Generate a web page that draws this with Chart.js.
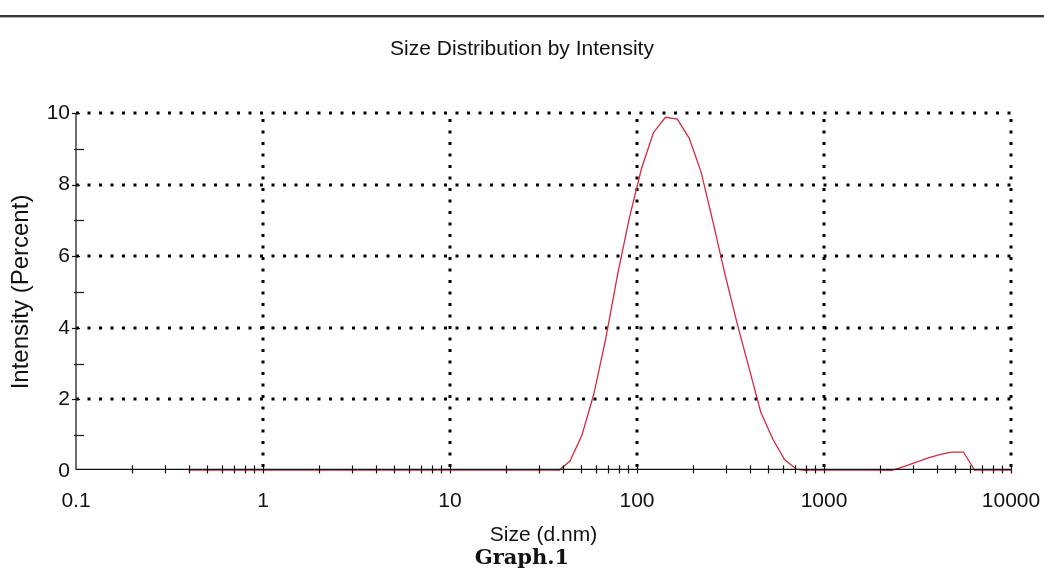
<!DOCTYPE html>
<html>
<head>
<meta charset="utf-8">
<script src="https://cdn.jsdelivr.net/npm/chart.js@4"></script>
<style>
  html, body { margin: 0; padding: 0; background: #fff; }
  #wrap { position: relative; width: 1044px; height: 573px; overflow: hidden; }
  #c { position: absolute; left: 0; top: 0; }
  #rule { position: absolute; left: 0; top: 15px; width: 1044px; height: 2px; background: #3a3a3a; border-bottom: 1px solid #b4b4b4; }
  #caption { position: absolute; left: 0; top: 544px; width: 1044px; text-align: center;
             font: bold 21px "DejaVu Serif", serif; color: #111; }
</style>
</head>
<body>
<div id="wrap">
  <canvas id="c" width="1044" height="573"></canvas>
  <div id="rule"></div>
  <div id="caption">Graph.1</div>
</div>
<script>
// size bins (d.nm) and intensity (%)
const sizes = [0.4, 0.4632, 0.5365, 0.6213, 0.7195, 0.8332, 0.9649,
  1.117, 1.294, 1.499, 1.736, 2.01, 2.328, 2.696, 3.122, 3.615, 4.187, 4.849, 5.615, 6.503, 7.531, 8.721,
  10.1, 11.7, 13.54, 15.69, 18.17, 21.04, 24.36, 28.21, 32.67, 37.84, 43.82, 50.75, 58.77, 68.06, 78.82, 91.28,
  105.7, 122.4, 141.8, 164.2, 190.1, 220.2, 255.0, 295.3, 342.0, 396.1, 458.7, 531.2, 615.1, 712.4, 825.0, 955.4,
  1106, 1281, 1484, 1718, 1990, 2305, 2669, 3091, 3580, 4145, 4801, 5560, 6439, 7456, 8635, 10000];
const intensity = [0, 0, 0, 0, 0, 0, 0,
  0, 0, 0, 0, 0, 0, 0, 0, 0, 0, 0, 0, 0, 0, 0,
  0, 0, 0, 0, 0, 0, 0, 0, 0, 0, 0.28, 1.0, 2.15, 3.7, 5.5, 7.1,
  8.45, 9.45, 9.88, 9.83, 9.3, 8.35, 6.95, 5.5, 4.15, 2.9, 1.65, 0.9, 0.32, 0.05, 0, 0,
  0, 0, 0, 0, 0, 0.02, 0.12, 0.24, 0.36, 0.46, 0.53, 0.53, 0, 0, 0, 0];

const decadeTicks = [0.1, 1, 10, 100, 1000, 10000];
const decadeLabels = ['0.1', '1', '10', '100', '1000', '10000'];
const yLabelTicks = [0, 2, 4, 6, 8, 10];

const FONT = '"Liberation Sans", Arial, sans-serif';
const INK = '#111';

const decadeIndex = v => decadeTicks.findIndex(d => Math.abs(Math.log10(d) - Math.log10(v)) < 1e-6);
const wholeStep = v => {
  const m = v / Math.pow(10, Math.floor(Math.log10(v) + 1e-9));
  return Math.abs(m - Math.round(m)) < 1e-6;
};

// dotted grid, solid axes and crossing tick marks, the way the instrument software draws them
const axesPlugin = {
  id: 'dtsAxes',
  beforeDatasetsDraw(chart) {
    const { ctx, chartArea: a, scales: { x, y } } = chart;
    ctx.save();
    ctx.strokeStyle = '#000';
    ctx.lineWidth = 3;
    ctx.setLineDash([3, 8.5]);
    y.ticks.forEach(t => {
      if (t.value === 0 || !yLabelTicks.includes(t.value)) return;
      const py = Math.round(y.getPixelForValue(t.value));
      ctx.beginPath(); ctx.moveTo(a.left, py); ctx.lineTo(a.right + 1, py); ctx.stroke();
    });
    x.ticks.forEach(t => {
      if (decadeIndex(t.value) <= 0) return;
      const px = Math.round(x.getPixelForValue(t.value));
      ctx.beginPath(); ctx.moveTo(px, a.bottom - 4); ctx.lineTo(px, a.top); ctx.stroke();
    });
    ctx.restore();
  },
  afterDatasetsDraw(chart) {
    const { ctx, chartArea: a, scales: { x, y } } = chart;
    const axisY = a.bottom - 1.6;
    ctx.save();
    ctx.strokeStyle = INK;
    ctx.lineWidth = 1.2;
    ctx.beginPath();
    ctx.moveTo(a.left, a.top); ctx.lineTo(a.left, axisY);
    ctx.lineTo(a.right, axisY);
    ctx.stroke();
    y.ticks.forEach(t => {
      if (t.value === 0) return;
      const py = Math.round(y.getPixelForValue(t.value)) + 0.5;
      const major = yLabelTicks.includes(t.value);
      ctx.beginPath();
      ctx.moveTo(a.left - (major ? 4 : 2), py);
      ctx.lineTo(a.left + (major ? 4 : 8), py);
      ctx.stroke();
    });
    x.ticks.forEach(t => {
      if (t.value <= x.min || !wholeStep(t.value)) return;
      const px = Math.round(x.getPixelForValue(t.value)) + 0.5;
      ctx.beginPath();
      ctx.moveTo(px, axisY - 4);
      ctx.lineTo(px, axisY + 4);
      ctx.stroke();
    });
    ctx.restore();
  }
};

new Chart(document.getElementById('c'), {
  type: 'scatter',
  data: {
    datasets: [{
      data: sizes.map((s, i) => ({ x: s, y: intensity[i] })),
      showLine: true,
      borderColor: '#d8283c',
      borderWidth: 1.3,
      pointRadius: 0,
      tension: 0,
      fill: false
    }]
  },
  options: {
    responsive: false,
    animation: false,
    devicePixelRatio: 1,
    layout: { padding: 0 },
    plugins: {
      legend: { display: false },
      tooltip: { enabled: false },
      title: {
        display: true,
        text: 'Size Distribution by Intensity',
        color: INK,
        font: { family: FONT, size: 21, weight: 'normal' },
        padding: { top: 37, bottom: 50.8 }
      }
    },
    scales: {
      x: {
        type: 'logarithmic',
        min: 0.1,
        max: 10000,
        grid: { display: false, drawTicks: false },
        border: { display: false },
        ticks: {
          autoSkip: false,
          maxRotation: 0,
          padding: 18,
          color: INK,
          font: { family: FONT, size: 21 },
          callback: v => {
            const i = decadeIndex(v);
            return i < 0 ? '' : decadeLabels[i];
          }
        },
        title: {
          display: true,
          text: 'Size (d.nm)',
          color: INK,
          font: { family: FONT, size: 21 },
          padding: { top: 0, bottom: 25.4 }
        },
        afterFit: s => { s.height = 102; s.paddingLeft = 0; s.paddingRight = 0; }
      },
      y: {
        min: 0,
        max: 10,
        grid: { display: false, drawTicks: false },
        border: { display: false },
        ticks: {
          stepSize: 1,
          autoSkip: false,
          padding: 6,
          color: INK,
          font: { family: FONT, size: 21 },
          callback: v => yLabelTicks.includes(v) ? String(v) : ''
        },
        title: {
          display: true,
          text: 'Intensity (Percent)',
          color: INK,
          font: { family: FONT, size: 24 },
          padding: { top: 6.6, bottom: 0 }
        },
        afterFit: s => { s.width = 76; }
      },
      // empty right-hand margin so the page title stays centred on the page
      margin: {
        position: 'right',
        grid: { display: false, drawTicks: false },
        border: { display: false },
        ticks: { display: false },
        afterFit: s => { s.width = 33; }
      }
    }
  },
  plugins: [axesPlugin]
});
</script>
</body>
</html>
